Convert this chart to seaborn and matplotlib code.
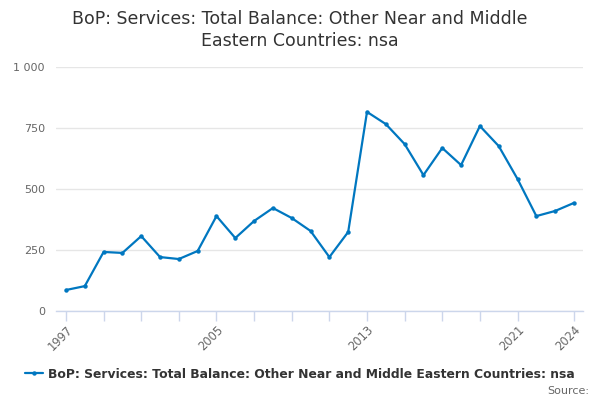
import matplotlib
matplotlib.use("Agg")
import matplotlib.pyplot as plt
import seaborn as sns
import pandas as pd

# values
years = list(range(1997, 2025))
balance = [86, 102, 242, 238, 307, 221, 213, 246, 389, 299,
           369, 422, 381, 328, 221, 324, 816, 766, 684, 557,
           668, 598, 758, 676, 541, 389, 410, 443]
tick_years = [1997, 1999, 2001, 2003, 2005, 2007, 2009, 2011,
              2013, 2015, 2017, 2019, 2021, 2024]
label_years = [1997, 2005, 2013, 2021, 2024]
series_name = "BoP: Services: Total Balance: Other Near and Middle Eastern Countries: nsa"

df = pd.DataFrame({"Year": years, "Value": balance})

sns.set_theme(style="white")
plt.rcParams["font.family"] = ["DejaVu Sans"]

fig = plt.figure(figsize=(6, 4), dpi=100)
ax = fig.add_axes([56 / 600, 1 - 311 / 400, (583 - 56) / 600, (311 - 67) / 400])

line_color = "#0077c0"
sns.lineplot(data=df, x="Year", y="Value", ax=ax, color=line_color,
             linewidth=1.6, marker="o", markersize=3.2, markeredgewidth=0,
             label=series_name, legend=False)

ax.set_xlim(1996.47, 2024.48)
ax.set_ylim(0, 1000)
ax.set_yticks([0, 250, 500, 750, 1000])
ax.set_yticklabels(["0", "250", "500", "750", "1 000"])
ax.set_xticks(tick_years)
ax.set_xticklabels([str(y) if y in label_years else "" for y in tick_years],
                   rotation=45, ha="right", rotation_mode="anchor")
ax.tick_params(axis="y", length=0, labelsize=8, colors="#666666", pad=8)
ax.tick_params(axis="x", length=7, width=1, color="#ccd6eb", labelsize=8.3,
               labelcolor="#666666", pad=2, direction="out", bottom=True)
ax.grid(axis="y", color="#e6e6e6", linewidth=1)
ax.set_axisbelow(True)
for side in ["top", "right", "left"]:
    ax.spines[side].set_visible(False)
ax.spines["bottom"].set_color("#ccd6eb")
ax.spines["bottom"].set_linewidth(1)
ax.set_xlabel("")
ax.set_ylabel("")

fig.suptitle("BoP: Services: Total Balance: Other Near and Middle\nEastern Countries: nsa",
             y=0.975, fontsize=12.5, color="#333333", linespacing=1.3)

handles, labels = ax.get_legend_handles_labels()
fig.legend(handles, labels, loc="center", bbox_to_anchor=(0.5, 1 - 374 / 400),
           frameon=False, prop={"weight": "bold", "size": 8.9}, handlelength=1.5,
           handletextpad=0.4, labelcolor="#333333")
fig.text(0.982, 1 - 391 / 400, "Source:", ha="right", va="center",
         fontsize=8, color="#666666")

fig.savefig("out.png", dpi=100)
